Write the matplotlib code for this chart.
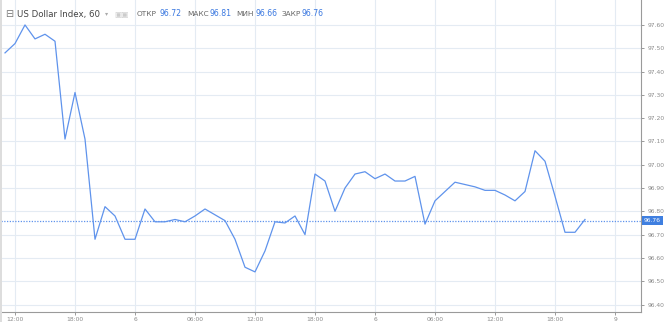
import matplotlib
matplotlib.use("Agg")
import matplotlib.pyplot as plt
from matplotlib.patches import Rectangle

# hourly closes, first point = 11:00 on day 5
values = [97.48, 97.52, 97.60, 97.54, 97.56, 97.53, 97.11, 97.31, 97.11, 96.68,
          96.82, 96.78, 96.68, 96.68, 96.81, 96.755, 96.755, 96.765, 96.755, 96.78,
          96.81, 96.785, 96.76, 96.68, 96.56, 96.54, 96.63, 96.755, 96.75, 96.78,
          96.70, 96.96, 96.93, 96.80, 96.90, 96.96, 96.97, 96.94, 96.96, 96.93,
          96.93, 96.95, 96.745, 96.845, 96.885, 96.925, 96.915, 96.905, 96.89, 96.89,
          96.87, 96.845, 96.885, 97.06, 97.015, 96.865, 96.71, 96.71, 96.765]
xtick_pos = [1, 7, 13, 19, 25, 31, 37, 43, 49, 55, 61]
xtick_labels = ["12:00", "18:00", "6", "06:00", "12:00", "18:00", "6", "06:00", "12:00", "18:00", "9"]
ytick_vals = [96.40, 96.50, 96.60, 96.70, 96.80, 96.90, 97.00, 97.10, 97.20, 97.30, 97.40, 97.50, 97.60]
last_value = 96.76
header_labels = ["ОТКР", "МАКС", "МИН", "ЗАКР"]
header_values = ["96.72", "96.81", "96.66", "96.76"]
title = "US Dollar Index, 60"

W, H = 665, 322
fig = plt.figure(figsize=(W / 100, H / 100), dpi=100)
ax = fig.add_axes([1 / W, 10.5 / H, 640 / W, 311.5 / H])

line_col = "#5f93ec"
grid_col = "#e4ebf3"
txt_col = "#8a8a8a"

x = list(range(len(values)))
ax.plot(x, values, color=line_col, lw=0.9)
ax.axhline(last_value, color=line_col, lw=0.9, ls=(0, (1, 1.2)))

ax.set_xlim(-0.4, 63.6)
ax.set_ylim(96.37, 97.707)
ax.set_xticks(xtick_pos)
ax.set_xticklabels(xtick_labels)
ax.set_yticks(ytick_vals)
ax.set_yticklabels([f"{v:.2f}" for v in ytick_vals])
ax.yaxis.tick_right()
ax.grid(True, color=grid_col, lw=0.8)
ax.set_axisbelow(True)
for s in ["top", "left"]:
    ax.spines[s].set_visible(False)
for s in ["right", "bottom"]:
    ax.spines[s].set_color("#9a9a9a")
    ax.spines[s].set_linewidth(0.8)
ax.tick_params(axis="both", labelsize=4.3, colors=txt_col, length=2.5, width=0.6)
ax.tick_params(axis="x", pad=1.2)
ax.tick_params(axis="y", pad=2)

# last value label
ax.text(1.0 + 3 / 640, last_value, f"{last_value:.2f}", transform=ax.get_yaxis_transform(),
        fontsize=4.3, color="white", va="center", ha="left",
        bbox=dict(boxstyle="square,pad=0.35", fc="#3f7fe0", ec="none"))

# left edge strip
fig.patches.append(Rectangle((0, 0), 2 / W, 1, transform=fig.transFigure, fc="#dddddd", ec="none"))

# header
yh = 1 - 14 / H
fig.text(5 / W, yh, "⊟", fontsize=7, color="#777777", va="center", ha="left")
fig.text(17 / W, yh, title, fontsize=6.2, color="#444444", va="center", ha="left")
fig.text(105 / W, yh, "▾", fontsize=4.5, color="#aaaaaa", va="center", ha="left")
fig.text(114 / W, yh, "▣▣", fontsize=5.5, color="#cccccc", va="center", ha="left")
lab_x = [137, 187, 236, 282]
val_x = [160, 209, 255, 302]
for lab, val, lx, vx in zip(header_labels, header_values, lab_x, val_x):
    fig.text(lx / W, yh, lab, fontsize=5.3, color="#666666", va="center", ha="left")
    fig.text(vx / W, yh, val, fontsize=5.6, color="#3a78e0", va="center", ha="left")

fig.savefig("out.png", dpi=100)
